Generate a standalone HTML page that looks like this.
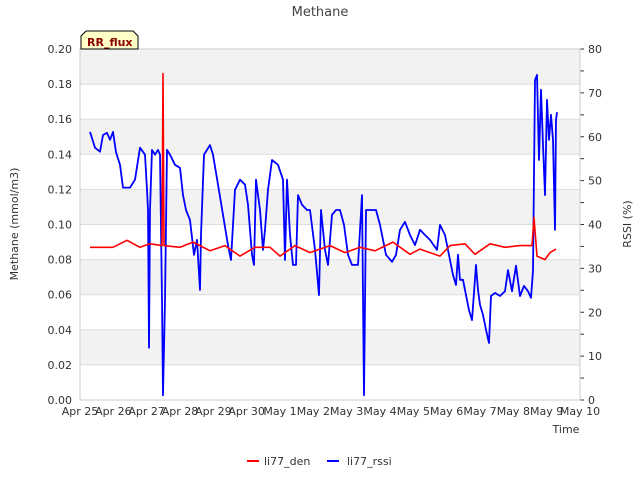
<!DOCTYPE html>
<html><head><meta charset="utf-8"><style>
body{margin:0;background:#fff;font-family:"Liberation Sans","DejaVu Sans",sans-serif}
svg text{font-family:"DejaVu Sans","Liberation Sans",sans-serif}
</style></head><body>
<svg id="chart" width="640" height="480" viewBox="0 0 640 480">
<text x="320" y="16" text-anchor="middle" font-size="13" fill="#444">Methane</text>
<g id="bands"></g>
<g id="grid"></g>
<g id="axes"></g>
<g id="series"></g>
<text transform="translate(18,224) rotate(-90)" text-anchor="middle" font-size="11" fill="#333">Methane (mmol/m3)</text>
<text transform="translate(631,224) rotate(-90)" text-anchor="middle" font-size="11" fill="#333">RSSI (%)</text>
<text x="566" y="433" text-anchor="middle" font-size="11" fill="#333">Time</text>
<g>
<path d="M81,49 L81,36 L86,31 L133,31 L138,36 L138,49 Z" fill="#ffffc8" stroke="#000" stroke-width="1"/>
<text x="87" y="46" font-size="11" font-weight="bold" fill="#8b0000">RR_flux</text>
</g>
<g>
<g><line x1="247" y1="461" x2="259" y2="461" stroke="red" stroke-width="2"/><text x="264" y="465" font-size="11" fill="#333">li77_den</text></g>
<g><line x1="327" y1="461" x2="339" y2="461" stroke="blue" stroke-width="2"/><text x="347" y="465" font-size="11" fill="#333">li77_rssi</text></g>
</g>
</svg>
<script>
const xTickLabels=["Apr 25","Apr 26","Apr 27","Apr 28","Apr 29","Apr 30","May 1","May 2","May 3","May 4","May 5","May 6","May 7","May 8","May 9","May 10"];
const yTicks=[0,0.02,0.04,0.06,0.08,0.10,0.12,0.14,0.16,0.18,0.20];
const y2Ticks=[0,10,20,30,40,50,60,70,80];
const rssiDays=[0.30,0.45,0.60,0.69,0.81,0.90,0.99,1.08,1.20,1.29,1.50,1.65,1.80,1.95,2.01,2.04,2.07,2.10,2.16,2.25,2.34,2.40,2.46,2.49,2.55,2.61,2.70,2.85,3.00,3.09,3.18,3.30,3.42,3.51,3.60,3.63,3.72,3.81,3.90,3.99,4.14,4.29,4.44,4.53,4.65,4.80,4.95,5.04,5.16,5.22,5.28,5.40,5.49,5.55,5.64,5.76,5.94,6.09,6.15,6.21,6.30,6.39,6.48,6.54,6.66,6.81,6.90,7.05,7.17,7.23,7.35,7.44,7.56,7.68,7.80,7.92,8.04,8.16,8.34,8.46,8.52,8.58,8.70,8.88,9.00,9.18,9.36,9.48,9.60,9.75,9.90,10.05,10.20,10.35,10.50,10.71,10.80,10.95,11.10,11.19,11.28,11.34,11.40,11.49,11.58,11.67,11.76,11.88,11.94,12.00,12.09,12.18,12.27,12.33,12.45,12.60,12.75,12.84,12.96,13.08,13.20,13.32,13.44,13.53,13.59,13.65,13.71,13.77,13.83,13.89,13.95,14.01,14.07,14.13,14.19,14.25,14.28,14.31];
const rssiValues=[61.1,57.5,56.6,60.4,60.9,59.3,61.1,56.5,53.6,48.4,48.4,50.2,57.5,55.9,47.9,43.3,11.9,43.3,57.0,55.9,57.0,55.9,22.8,1.1,22.8,57.0,55.9,53.6,52.9,46.7,43.3,41.0,33.1,36.5,25.1,37.6,55.9,57.0,58.1,55.9,49.1,42.2,35.3,31.9,47.9,50.2,49.1,44.5,33.1,30.8,50.2,43.3,34.2,38.8,47.9,54.7,53.6,50.2,31.9,50.2,37.6,30.8,30.8,46.7,44.5,43.3,43.3,34.2,23.9,43.3,34.2,30.8,42.2,43.3,43.3,39.9,33.1,30.8,30.8,46.7,1.1,43.3,43.3,43.3,39.9,33.1,31.5,33.1,38.8,40.6,37.6,35.3,38.8,37.6,36.5,34.2,39.9,37.6,31.9,28.5,26.2,33.1,27.4,27.4,23.9,20.5,18.2,30.8,25.1,21.7,19.4,16.0,13.0,23.7,24.4,23.7,24.8,29.6,24.8,30.6,23.7,26.0,24.8,23.3,29.4,72.9,74.1,54.7,70.7,58.1,46.7,68.4,59.3,65.0,59.3,38.8,63.8,65.6];
const denDays=[0.30,0.99,1.41,1.80,2.10,2.46,2.49,2.52,3.00,3.39,3.60,3.90,4.35,4.80,5.25,5.70,6.00,6.45,6.90,7.50,7.95,8.40,8.85,9.39,9.90,10.20,10.50,10.80,11.10,11.55,11.85,12.30,12.75,13.20,13.56,13.62,13.71,13.95,14.10,14.28];
const denValues=[0.087,0.087,0.091,0.087,0.089,0.088,0.186,0.088,0.087,0.090,0.088,0.085,0.088,0.082,0.087,0.087,0.082,0.088,0.084,0.088,0.084,0.087,0.085,0.090,0.083,0.086,0.084,0.082,0.088,0.089,0.083,0.089,0.087,0.088,0.088,0.104,0.082,0.080,0.084,0.086];
const L=80,R=580,T=49,B=400,NS="http://www.w3.org/2000/svg";
const xS=d=>L+d*(R-L)/15, yS=v=>B-v/0.2*(B-T), y2S=v=>B-v/80*(B-T);
function mk(tag,at,parent){const e=document.createElementNS(NS,tag);for(const k in at)e.setAttribute(k,at[k]);document.getElementById(parent).appendChild(e);return e;}
for(let i=0;i<10;i++){if(i%2===0){const r=mk('rect',{x:L,y:yS(yTicks[i+1]),width:R-L,height:yS(yTicks[i])-yS(yTicks[i+1]),fill:'#f2f2f2'},'bands');

}}
// bands: shaded 0.18-0.20, 0.14-0.16 ...
document.getElementById('bands').innerHTML='';
for(let i=1;i<10;i+=2){const r=mk('rect',{x:L,y:yS(yTicks[i+1]),width:R-L,height:yS(yTicks[i])-yS(yTicks[i+1]),fill:'#f2f2f2'},'bands');

}
yTicks.forEach(v=>{const g=mk('line',{x1:L,x2:R,y1:yS(v),y2:yS(v),stroke:'#ddd','stroke-width':1},'grid');


const t=mk('text',{x:L-8,y:yS(v)+4,'text-anchor':'end','font-size':11,fill:'#333'},'axes');t.textContent=v.toFixed(2);

});
y2Ticks.forEach(v=>{const t=mk('text',{x:R+8,y:y2S(v)+4,'font-size':11,fill:'#333'},'axes');t.textContent=v;


mk('line',{x1:R,x2:R+4,y1:y2S(v),y2:y2S(v),stroke:'#333'},'axes');
if(v<80)mk('line',{x1:R,x2:R+4,y1:y2S(v+5),y2:y2S(v+5),stroke:'#333'},'axes');});
xTickLabels.forEach((s,i)=>{const t=mk('text',{x:xS(i),y:415,'text-anchor':'middle','font-size':11,fill:'#333'},'axes');t.textContent=s;

});
mk('rect',{x:L,y:T,width:R-L,height:B-T,fill:'none',stroke:'#ccc'},'axes');
const pd=rssiDays.map((d,i)=>(i?'L':'M')+xS(d).toFixed(1)+','+y2S(rssiValues[i]).toFixed(1)).join('');
const pb=mk('path',{d:pd,fill:'none',stroke:'blue','stroke-width':1.8,'stroke-linejoin':'round'},'series');


const pr=denDays.map((d,i)=>(i?'L':'M')+xS(d).toFixed(1)+','+yS(denValues[i]).toFixed(1)).join('');
const rr=mk('path',{d:pr,fill:'none',stroke:'red','stroke-width':1.6,'stroke-linejoin':'round'},'series');


</script>
</body></html>
